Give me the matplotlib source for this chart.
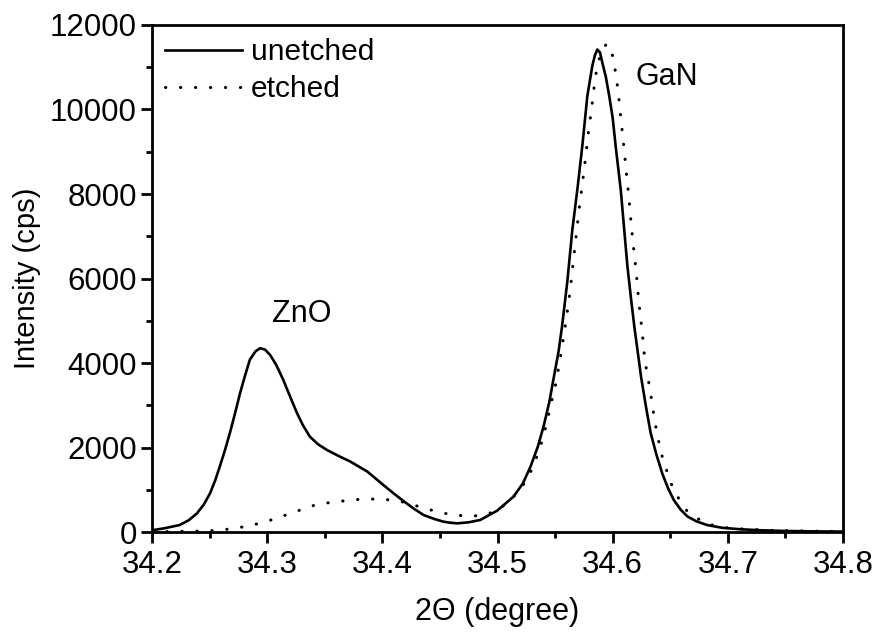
import matplotlib
matplotlib.use('Agg')
import matplotlib.pyplot as plt
from matplotlib.ticker import MultipleLocator

plt.rcParams['font.family'] = ['Liberation Sans', 'DejaVu Sans']

# values
unetched_x = [34.200, 34.211, 34.224, 34.232, 34.239, 34.245, 34.2504, 34.255, 34.259,
              34.2635, 34.268, 34.2725, 34.2765, 34.281, 34.285, 34.290, 34.294, 34.298,
              34.3026, 34.308, 34.314, 34.320, 34.326, 34.331, 34.337, 34.344,
              34.352, 34.362, 34.372, 34.387, 34.401, 34.410, 34.419, 34.428,
              34.436, 34.445, 34.453, 34.459, 34.465, 34.475, 34.485, 34.4997,
              34.514, 34.522, 34.5287, 34.535, 34.540, 34.545, 34.549, 34.553,
              34.556, 34.5605, 34.565, 34.5693, 34.5736, 34.578, 34.5823, 34.5845,
              34.5867, 34.589, 34.591, 34.594, 34.597, 34.6, 34.6026, 34.607,
              34.61, 34.6128, 34.6158, 34.6188, 34.6246, 34.629, 34.633, 34.638,
              34.643, 34.648, 34.653, 34.659, 34.665, 34.673, 34.682, 34.695,
              34.711, 34.73, 34.75, 34.775, 34.80]
unetched_y = [40, 90, 165, 280, 440, 650, 915, 1230, 1560,
              1950, 2380, 2850, 3290, 3720, 4080, 4280, 4350, 4320,
              4190, 3950, 3600, 3200, 2810, 2530, 2260, 2080,
              1940, 1800, 1670, 1430, 1110, 910, 720, 540,
              400, 310, 245, 220, 205, 230, 285, 505,
              840, 1150, 1550, 2020, 2500, 3080, 3680, 4270,
              4860, 5900, 7160, 8100, 9130, 10320, 11030, 11280,
              11420, 11350, 11110, 10780, 10320, 9800, 9130, 8100,
              7160, 6290, 5550, 4860, 3680, 2950, 2340, 1830,
              1390, 1040, 760, 530, 365, 250, 165, 100,
              65, 40, 25, 15, 10]

etched_x = [34.200, 34.211, 34.2374, 34.251, 34.264, 34.277, 34.291, 34.3035,
            34.316, 34.3287, 34.3417, 34.355, 34.3678, 34.381, 34.394, 34.407,
            34.420, 34.432, 34.445, 34.458, 34.471, 34.484, 34.498, 34.510,
            34.5206, 34.528, 34.5336, 34.538, 34.5417, 34.5446, 34.5478, 34.551,
            34.5554, 34.5594, 34.563, 34.5658, 34.5687, 34.5715, 34.5736, 34.575,
            34.5768, 34.578, 34.5797, 34.5815, 34.583, 34.5846, 34.5867, 34.590,
            34.5945, 34.5985, 34.6005, 34.6028, 34.6046, 34.606, 34.6072, 34.6087,
            34.61, 34.6113, 34.6125, 34.614, 34.615, 34.6174, 34.6203, 34.6226,
            34.6255, 34.628, 34.6326, 34.6366, 34.6417, 34.650, 34.656, 34.665,
            34.678, 34.691, 34.704, 34.74, 34.80]
etched_y = [5, 10, 20, 30, 60, 110, 190, 285,
            400, 520, 640, 700, 740, 775, 780, 760,
            700, 600, 500, 420, 380, 385, 480, 720,
            1040, 1375, 1745, 2100, 2460, 2810, 3190, 3560,
            4270, 4980, 5700, 6400, 7120, 7800, 8200, 8560,
            8910, 9270, 9620, 9980, 10330, 10690, 11040, 11350,
            11550, 11450, 11190, 10830, 10460, 10100, 9750, 9390,
            9030, 8670, 8320, 7960, 7600, 6900, 6190, 5470,
            4760, 4050, 3340, 2610, 1900, 1190, 850, 480,
            245, 125, 85, 35, 10]

fig = plt.figure(figsize=(8.8, 6.36), dpi=100)
ax = fig.add_axes([0.1727, 0.1635, 0.7853, 0.7972])

ax.plot(unetched_x, unetched_y, color='black', lw=1.9, label='unetched',
        solid_joinstyle='round')
ax.plot(etched_x, etched_y, color='black', lw=2.2, linestyle=(0, (0.1, 4.8)),
        dash_capstyle='round', label='etched')

ax.set_xlim(34.2, 34.8)
ax.set_ylim(0, 12000)
ax.xaxis.set_major_locator(MultipleLocator(0.1))
ax.xaxis.set_minor_locator(MultipleLocator(0.05))
ax.yaxis.set_major_locator(MultipleLocator(2000))
ax.yaxis.set_minor_locator(MultipleLocator(1000))
ax.xaxis.set_major_formatter(plt.FuncFormatter(lambda v, p: f'{v:.1f}'))

for s in ax.spines.values():
    s.set_linewidth(2)
ax.tick_params(which='major', direction='out', length=8, width=2, labelsize=22.5, pad=3)
ax.tick_params(which='minor', direction='out', length=4.5, width=2)
ax.tick_params(axis='x', which='major', pad=5)

ax.set_xlabel('2\u0398 (degree)', fontsize=22, labelpad=12)
ax.set_ylabel('Intensity (cps)', fontsize=21, labelpad=6)

ax.text(34.330, 5150, 'ZnO', fontsize=22, ha='center', va='center')
ax.text(34.620, 10760, 'GaN', fontsize=22, ha='left', va='center')

ax.legend(loc='upper left', frameon=False, fontsize=21.5, handlelength=2.55,
          handletextpad=0.3, borderpad=0.2, borderaxespad=0.25, labelspacing=0.3)

fig.savefig('out.png', dpi=100)
